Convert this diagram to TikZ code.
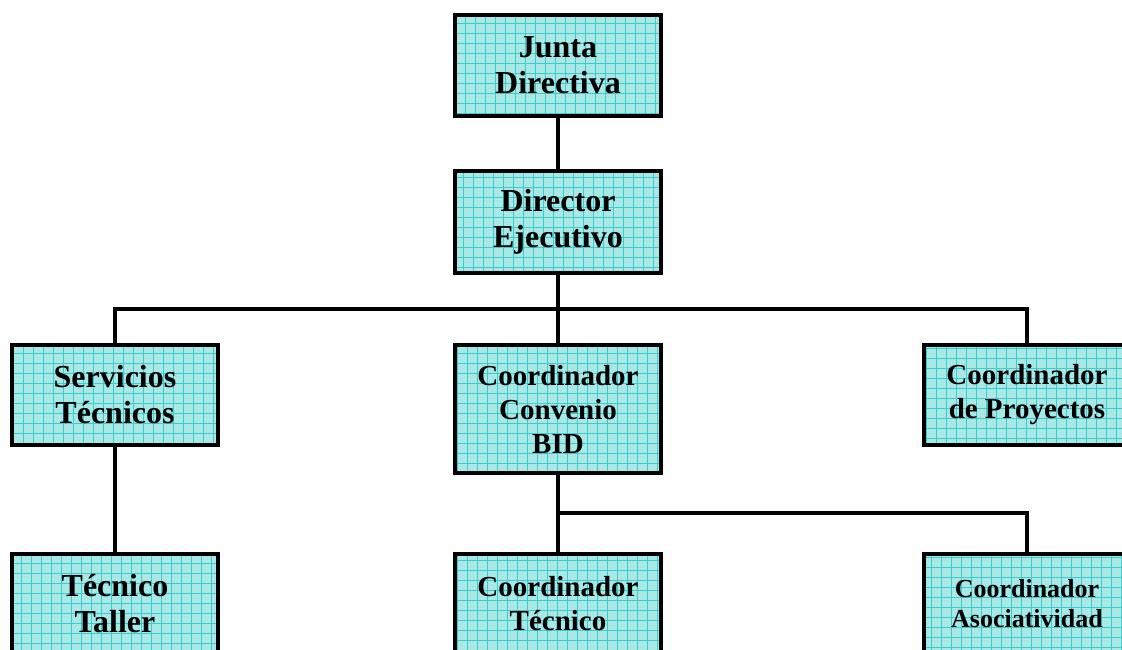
\documentclass[tikz,border=0pt]{standalone}
\usepackage{fontspec}
\setmainfont{Liberation Serif}
\definecolor{boxfill}{RGB}{168,232,230}
\definecolor{gridcol}{RGB}{60,204,204}
\tikzset{
  unit/.style={draw=black, line width=4.5pt, fill=boxfill, inner sep=0pt,
    align=center, minimum width=206pt, minimum height=100pt,
    font=\bfseries\fontsize{32}{36}\selectfont,
    path picture={\draw[gridcol, line width=0.9pt]
      (path picture bounding box.south west) grid[step=10pt]
      (path picture bounding box.north east);}},
  mid/.style={font=\bfseries\fontsize{29}{34}\selectfont},
  small/.style={font=\bfseries\fontsize{26}{30}\selectfont},
  link/.style={line width=4.5pt, black}
}
\begin{document}
\begin{tikzpicture}[x=1pt,y=1pt]
\useasboundingbox (0,0) rectangle (1122,-650);
\clip (0,0) rectangle (1122,-650);

% boxes of the chart
\node[unit, minimum height=101pt] (jd) at (558,-65.5) {Junta\\Directiva};
\node[unit, minimum height=102pt] (de) at (558,-222) {Director\\Ejecutivo};
\node[unit] (st) at (115,-395) {Servicios\\Técnicos};
\node[unit, mid, minimum height=128pt] (cb) at (558,-409) {Coordinador\\Convenio\\BID};
\node[unit, mid] (cp) at (1027,-395) {Coordinador\\de Proyectos};
\node[unit] (tt) at (115,-604) {Técnico\\Taller};
\node[unit, mid] (ct) at (558,-604) {Coordinador\\Técnico};
\node[unit, small] (ca) at (1027,-604) {Coordinador\\Asociatividad};

% junction points of the connectors
\coordinate (bus) at (558,-309);
\coordinate (lbus) at (558,-513);

% connectors
\draw[link] (jd.south) -- (de.north);
\draw[link] (de.south) -- (bus);
\draw[link] (bus) -- (cb.north);
\draw[link] (st.north) |- (bus) -| (cp.north);
\draw[link] (st.south) -- (tt.north);
\draw[link] (cb.south) -- (ct.north);
\draw[link] (lbus) -| (ca.north);
\end{tikzpicture}
\end{document}
